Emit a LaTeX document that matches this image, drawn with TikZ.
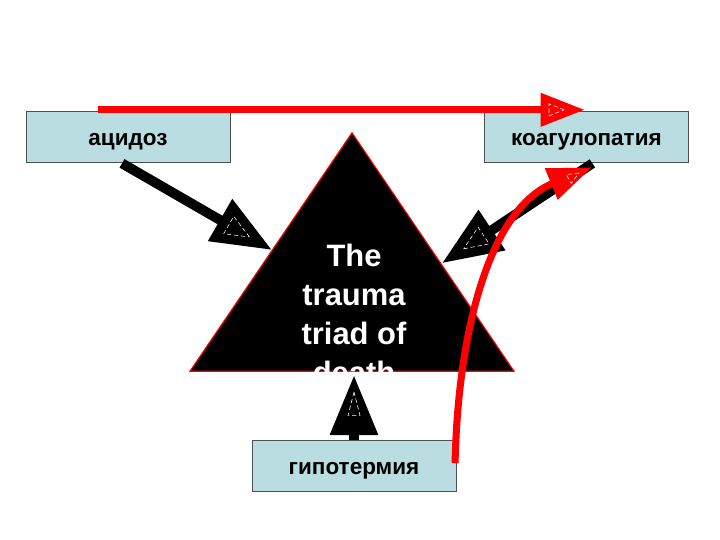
\documentclass[tikz,border=0pt]{standalone}
\usepackage{fontspec}
\setmainfont{Liberation Sans}
\usetikzlibrary{arrows.meta,shapes.geometric}
\definecolor{boxfill}{HTML}{B9DDE0}
\definecolor{boxline}{HTML}{505050}

\begin{document}
\begin{tikzpicture}[every node/.style={font=\bfseries},
  causebox/.style={draw=boxline, fill=boxfill, minimum width=5.1cm, minimum height=1.275cm, text height=0.55cm, text depth=0.08cm, font=\fontsize{16}{19}\selectfont\bfseries},
  blackarrow/.style={line width=7pt, -{Triangle[length=1.5cm,width=1.15cm]}},
  redarrow/.style={draw=red, line width=5pt, -{Triangle[length=1.1cm,width=0.8cm]}, red},
  innertri/.style 2 args={isosceles triangle, isosceles triangle stretches, sloped, allow upside down, draw=white, densely dashed, line width=0.4pt, inner sep=0pt, minimum height=#1, minimum width=#2}]
\useasboundingbox (0,0) rectangle (18,13.5);
\node[causebox] (acid) at (3.2,10.09) {ацидоз};
\node[causebox] (koag) at (14.66,10.09) {коагулопатия};
\node[causebox] (hypo) at (8.85,1.86) {гипотермия};
% the triad
\coordinate (apex) at (8.8,10.18);
\coordinate (bl) at (4.75,4.22);
\coordinate (br) at (12.85,4.22);
\draw[red, fill=black, line width=0.8pt] (apex) -- (bl) -- (br) -- cycle;
\node[text=white, align=center, font=\fontsize{22}{27.6}\selectfont\bfseries] (triad) at (8.85,5.65) {The\\trauma\\triad of\\death};
\coordinate (tl) at (6.8,7.25);
\coordinate (tr) at (11.05,6.92);
\coordinate (tb) at (8.85,4.12);
% causes
\draw[blackarrow] ([xshift=-0.15cm,yshift=-0.03cm]acid.south) -- (tl) node[pos=0.75, innertri={0.6cm}{0.5cm}] {};
\draw[blackarrow] ([xshift=0.15cm,yshift=-0.03cm]koag.south) -- (tr) node[pos=0.76, innertri={0.6cm}{0.5cm}] {};
\draw[blackarrow] (hypo.north) -- (tb) node[pos=0.45, innertri={0.58cm}{0.3cm}] {};
\draw[redarrow] ([xshift=1.8cm,yshift=0.02cm]acid.north west) -- ([xshift=2.515cm,yshift=0.02cm]koag.north west) node[pos=0.935, innertri={0.38cm}{0.3cm}] {};
\draw[redarrow] ([xshift=-0.03cm,yshift=-0.58cm]hypo.north east) .. controls (11.45,5.25) and (12.25,8.275) .. ([xshift=0.14cm,yshift=-0.13cm]koag.south) node[pos=0.93, innertri={0.3cm}{0.25cm}] {};
\end{tikzpicture}
\end{document}
